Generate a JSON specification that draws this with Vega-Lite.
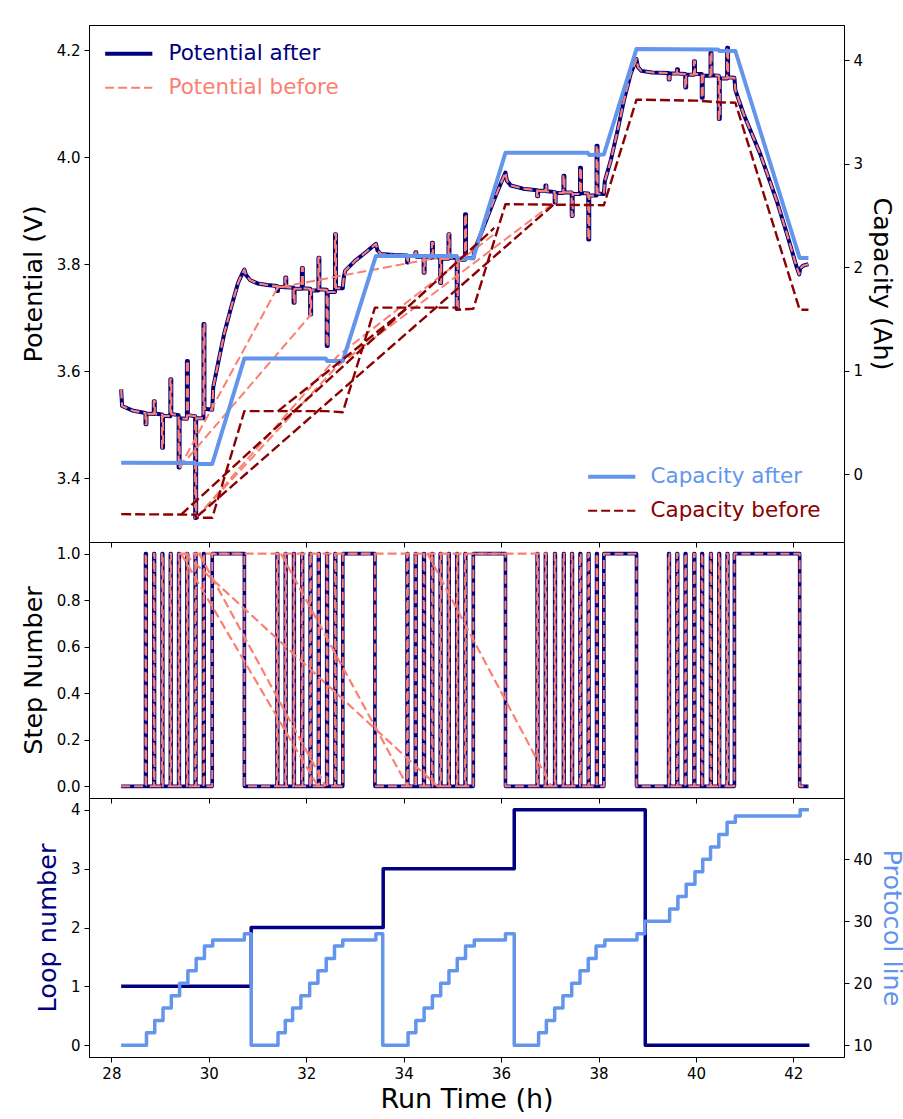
{
  "$schema": "https://vega.github.io/schema/vega-lite/v6.json",
  "background": "white",
  "padding": {"left": 20, "top": 24, "right": 0, "bottom": 0},
  "bounds": "flush",
  "spacing": 0,
  "config": {
    "font": "DejaVu Sans",
    "view": {"stroke": "#000000", "strokeWidth": 1},
    "axis": {"labelFont": "DejaVu Sans", "titleFont": "DejaVu Sans", "labelFontSize": 15, "titleFontSize": 25.5, "titleFontWeight": "normal", "labelColor": "#000000", "titleColor": "#000000", "tickColor": "#000000", "domainColor": "#000000", "tickSize": 5, "tickWidth": 1, "domainWidth": 1, "grid": false, "labelPadding": 4, "titlePadding": 10},
    "line": {"strokeJoin": "round"}
  },
  "datasets": {
    "pot": [
      {"t":28.2,"v":3.566},{"t":28.22,"v":3.535},{"t":28.45,"v":3.526},
      {"t":28.70,"v":3.522},{"t":28.70,"v":3.501},{"t":28.72,"v":3.501},{"t":28.72,"v":3.521},
      {"t":28.87,"v":3.520},{"t":28.87,"v":3.544},{"t":28.89,"v":3.544},{"t":28.89,"v":3.521},
      {"t":29.04,"v":3.519},{"t":29.04,"v":3.457},{"t":29.06,"v":3.457},{"t":29.06,"v":3.517},
      {"t":29.21,"v":3.516},{"t":29.21,"v":3.585},{"t":29.23,"v":3.585},{"t":29.23,"v":3.520},
      {"t":29.38,"v":3.518},{"t":29.38,"v":3.420},{"t":29.40,"v":3.420},{"t":29.40,"v":3.512},
      {"t":29.55,"v":3.511},{"t":29.55,"v":3.619},{"t":29.57,"v":3.619},{"t":29.57,"v":3.518},
      {"t":29.72,"v":3.516},{"t":29.72,"v":3.326},{"t":29.74,"v":3.326},{"t":29.74,"v":3.512},
      {"t":29.89,"v":3.512},{"t":29.89,"v":3.688},{"t":29.91,"v":3.688},{"t":29.91,"v":3.530},
      {"t":30.07,"v":3.528},{"t":30.09,"v":3.570},{"t":30.19,"v":3.615},{"t":30.32,"v":3.672},{"t":30.46,"v":3.720},{"t":30.60,"v":3.765},{"t":30.70,"v":3.785},{"t":30.73,"v":3.790},
      {"t":30.76,"v":3.780},{"t":30.85,"v":3.770},{"t":31.0,"v":3.764},{"t":31.2,"v":3.761},
      {"t":31.40,"v":3.759},{"t":31.40,"v":3.750},{"t":31.42,"v":3.750},{"t":31.42,"v":3.758},
      {"t":31.57,"v":3.757},{"t":31.57,"v":3.775},{"t":31.59,"v":3.775},{"t":31.59,"v":3.757},
      {"t":31.74,"v":3.756},{"t":31.74,"v":3.728},{"t":31.76,"v":3.728},{"t":31.76,"v":3.754},
      {"t":31.91,"v":3.754},{"t":31.91,"v":3.793},{"t":31.93,"v":3.793},{"t":31.93,"v":3.755},
      {"t":32.08,"v":3.754},{"t":32.08,"v":3.706},{"t":32.10,"v":3.706},{"t":32.10,"v":3.751},
      {"t":32.25,"v":3.751},{"t":32.25,"v":3.812},{"t":32.27,"v":3.812},{"t":32.27,"v":3.753},
      {"t":32.42,"v":3.752},{"t":32.42,"v":3.647},{"t":32.44,"v":3.647},{"t":32.44,"v":3.748},
      {"t":32.59,"v":3.748},{"t":32.59,"v":3.856},{"t":32.61,"v":3.856},{"t":32.61,"v":3.755},
      {"t":32.75,"v":3.755},{"t":32.77,"v":3.775},{"t":32.80,"v":3.788},{"t":33.0,"v":3.806},{"t":33.26,"v":3.825},{"t":33.43,"v":3.838},
      {"t":33.46,"v":3.826},{"t":33.53,"v":3.819},{"t":33.8,"v":3.817},
      {"t":34.07,"v":3.816},{"t":34.07,"v":3.803},{"t":34.09,"v":3.803},{"t":34.09,"v":3.815},
      {"t":34.24,"v":3.815},{"t":34.24,"v":3.822},{"t":34.26,"v":3.822},{"t":34.26,"v":3.814},
      {"t":34.41,"v":3.814},{"t":34.41,"v":3.784},{"t":34.43,"v":3.784},{"t":34.43,"v":3.812},
      {"t":34.58,"v":3.812},{"t":34.58,"v":3.840},{"t":34.60,"v":3.840},{"t":34.60,"v":3.813},
      {"t":34.75,"v":3.813},{"t":34.75,"v":3.765},{"t":34.77,"v":3.765},{"t":34.77,"v":3.810},
      {"t":34.92,"v":3.810},{"t":34.92,"v":3.856},{"t":34.94,"v":3.856},{"t":34.94,"v":3.812},
      {"t":35.09,"v":3.812},{"t":35.09,"v":3.716},{"t":35.11,"v":3.716},{"t":35.11,"v":3.808},
      {"t":35.26,"v":3.808},{"t":35.26,"v":3.893},{"t":35.28,"v":3.893},{"t":35.28,"v":3.812},
      {"t":35.43,"v":3.811},{"t":35.45,"v":3.825},{"t":35.6,"v":3.860},{"t":35.75,"v":3.895},{"t":35.9,"v":3.930},{"t":36.0,"v":3.952},{"t":36.09,"v":3.971},
      {"t":36.12,"v":3.956},{"t":36.2,"v":3.947},{"t":36.45,"v":3.941},
      {"t":36.74,"v":3.938},{"t":36.74,"v":3.927},{"t":36.76,"v":3.927},{"t":36.76,"v":3.937},
      {"t":36.91,"v":3.937},{"t":36.91,"v":3.947},{"t":36.93,"v":3.947},{"t":36.93,"v":3.936},
      {"t":37.10,"v":3.935},{"t":37.10,"v":3.915},{"t":37.12,"v":3.915},{"t":37.12,"v":3.933},
      {"t":37.28,"v":3.933},{"t":37.28,"v":3.965},{"t":37.30,"v":3.965},{"t":37.30,"v":3.934},
      {"t":37.45,"v":3.934},{"t":37.45,"v":3.890},{"t":37.47,"v":3.890},{"t":37.47,"v":3.931},
      {"t":37.62,"v":3.931},{"t":37.62,"v":3.980},{"t":37.64,"v":3.980},{"t":37.64,"v":3.933},
      {"t":37.79,"v":3.932},{"t":37.79,"v":3.846},{"t":37.81,"v":3.846},{"t":37.81,"v":3.928},
      {"t":37.96,"v":3.928},{"t":37.96,"v":4.021},{"t":37.98,"v":4.021},{"t":37.98,"v":3.932},
      {"t":38.11,"v":3.931},{"t":38.13,"v":3.955},{"t":38.25,"v":3.993},{"t":38.39,"v":4.049},{"t":38.52,"v":4.105},{"t":38.66,"v":4.155},{"t":38.78,"v":4.183},
      {"t":38.81,"v":4.168},{"t":38.88,"v":4.161},{"t":39.1,"v":4.158},
      {"t":39.44,"v":4.157},{"t":39.44,"v":4.145},{"t":39.46,"v":4.145},{"t":39.46,"v":4.156},
      {"t":39.61,"v":4.156},{"t":39.61,"v":4.164},{"t":39.63,"v":4.164},{"t":39.63,"v":4.156},
      {"t":39.78,"v":4.155},{"t":39.78,"v":4.130},{"t":39.80,"v":4.130},{"t":39.80,"v":4.154},
      {"t":39.96,"v":4.154},{"t":39.96,"v":4.179},{"t":39.98,"v":4.179},{"t":39.98,"v":4.155},
      {"t":40.12,"v":4.155},{"t":40.12,"v":4.111},{"t":40.14,"v":4.111},{"t":40.14,"v":4.152},
      {"t":40.30,"v":4.152},{"t":40.30,"v":4.195},{"t":40.32,"v":4.195},{"t":40.32,"v":4.153},
      {"t":40.47,"v":4.152},{"t":40.47,"v":4.071},{"t":40.49,"v":4.071},{"t":40.49,"v":4.147},
      {"t":40.64,"v":4.147},{"t":40.64,"v":4.204},{"t":40.66,"v":4.204},{"t":40.66,"v":4.149},
      {"t":40.79,"v":4.148},{"t":40.81,"v":4.125},{"t":40.98,"v":4.080},{"t":41.32,"v":4.006},{"t":41.66,"v":3.918},{"t":41.87,"v":3.856},{"t":42.07,"v":3.794},{"t":42.12,"v":3.781},{"t":42.14,"v":3.792},{"t":42.2,"v":3.797},{"t":42.31,"v":3.800}
    ],
    "potd": [
      {"t":29.40,"v":3.420,"g":"a"},{"t":32.10,"v":3.706,"g":"a"},
      {"t":29.40,"v":3.420,"g":"b"},{"t":31.41,"v":3.756,"g":"b"},{"t":34.69,"v":3.812,"g":"b"},
      {"t":29.74,"v":3.326,"g":"c"},{"t":32.64,"v":3.628,"g":"c"},{"t":35.86,"v":3.856,"g":"c"},
      {"t":29.74,"v":3.326,"g":"d"},{"t":32.64,"v":3.610,"g":"d"},{"t":37.09,"v":3.915,"g":"d"}
    ],
    "cap": [
      {"t":28.2,"c":0.112},{"t":29.70,"c":0.11},{"t":29.74,"c":0.10},{"t":30.07,"c":0.10},{"t":30.73,"c":1.12},{"t":32.40,"c":1.12},{"t":32.43,"c":1.095},{"t":32.75,"c":1.095},{"t":33.43,"c":2.11},{"t":35.09,"c":2.11},{"t":35.11,"c":2.085},{"t":35.43,"c":2.09},{"t":36.09,"c":3.107},{"t":37.78,"c":3.107},{"t":37.81,"c":3.085},{"t":38.11,"c":3.09},{"t":38.78,"c":4.11},{"t":40.45,"c":4.105},{"t":40.48,"c":4.09},{"t":40.81,"c":4.09},{"t":42.13,"c":2.09},{"t":42.31,"c":2.09}
    ],
    "capb": [
      {"t":28.2,"c":-0.385},{"t":29.72,"c":-0.39},{"t":29.74,"c":-0.42},{"t":30.07,"c":-0.42},{"t":30.73,"c":0.61},{"t":32.42,"c":0.61},{"t":32.75,"c":0.60},{"t":33.41,"c":1.61},{"t":35.09,"c":1.61},{"t":35.11,"c":1.59},{"t":35.43,"c":1.60},{"t":36.09,"c":2.61},{"t":38.11,"c":2.60},{"t":38.78,"c":3.62},{"t":40.0,"c":3.61},{"t":40.47,"c":3.595},{"t":40.81,"c":3.59},{"t":42.13,"c":1.59},{"t":42.31,"c":1.59}
    ],
    "capd": [
      {"t":29.43,"c":-0.39,"g":"a"},{"t":35.86,"c":2.38,"g":"a"},
      {"t":29.78,"c":-0.40,"g":"b"},{"t":37.09,"c":2.61,"g":"b"},
      {"t":31.42,"c":0.61,"g":"c"},{"t":34.08,"c":1.61,"g":"c"}
    ],
    "step": [
      {"t":28.2,"s":0},
      {"t":28.70,"s":1},{"t":28.715,"s":0},{"t":28.87,"s":1},{"t":28.885,"s":0},{"t":29.04,"s":1},{"t":29.055,"s":0},{"t":29.21,"s":1},{"t":29.225,"s":0},{"t":29.38,"s":1},{"t":29.395,"s":0},{"t":29.55,"s":1},{"t":29.565,"s":0},{"t":29.72,"s":1},{"t":29.735,"s":0},{"t":29.89,"s":1},{"t":29.905,"s":0},
      {"t":30.07,"s":1},{"t":30.73,"s":0},
      {"t":31.40,"s":1},{"t":31.415,"s":0},{"t":31.57,"s":1},{"t":31.585,"s":0},{"t":31.74,"s":1},{"t":31.755,"s":0},{"t":31.91,"s":1},{"t":31.925,"s":0},{"t":32.08,"s":1},{"t":32.095,"s":0},{"t":32.25,"s":1},{"t":32.265,"s":0},{"t":32.42,"s":1},{"t":32.435,"s":0},{"t":32.59,"s":1},{"t":32.605,"s":0},
      {"t":32.75,"s":1},{"t":33.41,"s":0},
      {"t":34.07,"s":1},{"t":34.085,"s":0},{"t":34.24,"s":1},{"t":34.255,"s":0},{"t":34.41,"s":1},{"t":34.425,"s":0},{"t":34.58,"s":1},{"t":34.595,"s":0},{"t":34.75,"s":1},{"t":34.765,"s":0},{"t":34.92,"s":1},{"t":34.935,"s":0},{"t":35.09,"s":1},{"t":35.105,"s":0},{"t":35.26,"s":1},{"t":35.275,"s":0},
      {"t":35.43,"s":1},{"t":36.09,"s":0},
      {"t":36.74,"s":1},{"t":36.755,"s":0},{"t":36.91,"s":1},{"t":36.925,"s":0},{"t":37.10,"s":1},{"t":37.115,"s":0},{"t":37.28,"s":1},{"t":37.295,"s":0},{"t":37.45,"s":1},{"t":37.465,"s":0},{"t":37.62,"s":1},{"t":37.635,"s":0},{"t":37.79,"s":1},{"t":37.805,"s":0},{"t":37.96,"s":1},{"t":37.975,"s":0},
      {"t":38.11,"s":1},{"t":38.78,"s":0},
      {"t":39.44,"s":1},{"t":39.455,"s":0},{"t":39.61,"s":1},{"t":39.625,"s":0},{"t":39.78,"s":1},{"t":39.795,"s":0},{"t":39.96,"s":1},{"t":39.975,"s":0},{"t":40.12,"s":1},{"t":40.135,"s":0},{"t":40.30,"s":1},{"t":40.315,"s":0},{"t":40.47,"s":1},{"t":40.485,"s":0},{"t":40.64,"s":1},{"t":40.655,"s":0},
      {"t":40.79,"s":1},{"t":42.13,"s":0},
      {"t":42.31,"s":0}
    ],
    "stepd": [
      {"t":29.43,"s":1,"g":"a"},{"t":32.24,"s":0,"g":"a"},
      {"t":29.80,"s":1,"g":"b"},{"t":32.40,"s":0,"g":"b"},
      {"t":29.50,"s":1,"g":"c"},{"t":34.70,"s":0,"g":"c"},
      {"t":31.48,"s":1,"g":"d"},{"t":34.08,"s":0,"g":"d"},
      {"t":34.49,"s":1,"g":"e"},{"t":37.03,"s":0,"g":"e"},
      {"t":29.40,"s":1,"g":"f"},{"t":36.95,"s":1,"g":"f"}
    ],
    "loop": [
      {"t":28.2,"n":1},{"t":30.87,"n":2},{"t":33.58,"n":3},{"t":36.27,"n":4},{"t":38.96,"n":0},{"t":42.33,"n":0}
    ],
    "proto": [
      {"t":28.2,"p":10},{"t":28.72,"p":12},{"t":28.89,"p":14},{"t":29.06,"p":16},{"t":29.23,"p":18},{"t":29.40,"p":20},{"t":29.57,"p":22},{"t":29.74,"p":24},{"t":29.91,"p":26},{"t":30.08,"p":27},{"t":30.73,"p":28},{"t":30.87,"p":10},
      {"t":31.42,"p":12},{"t":31.57,"p":14},{"t":31.72,"p":16},{"t":31.89,"p":18},{"t":32.07,"p":20},{"t":32.24,"p":22},{"t":32.41,"p":24},{"t":32.58,"p":26},{"t":32.75,"p":27},{"t":33.43,"p":28},{"t":33.57,"p":10},
      {"t":34.09,"p":12},{"t":34.25,"p":14},{"t":34.42,"p":16},{"t":34.59,"p":18},{"t":34.76,"p":20},{"t":34.93,"p":22},{"t":35.10,"p":24},{"t":35.27,"p":26},{"t":35.45,"p":27},{"t":36.09,"p":28},{"t":36.27,"p":10},
      {"t":36.77,"p":12},{"t":36.93,"p":14},{"t":37.10,"p":16},{"t":37.27,"p":18},{"t":37.45,"p":20},{"t":37.62,"p":22},{"t":37.79,"p":24},{"t":37.95,"p":26},{"t":38.13,"p":27},{"t":38.79,"p":28},{"t":38.95,"p":30},
      {"t":39.46,"p":32},{"t":39.63,"p":34},{"t":39.80,"p":36},{"t":39.98,"p":38},{"t":40.14,"p":40},{"t":40.30,"p":42},{"t":40.47,"p":44},{"t":40.64,"p":46},{"t":40.81,"p":47},{"t":42.14,"p":48},{"t":42.32,"p":48}
    ]
  },
  "vconcat": [
    {
      "width": 755,
      "height": 517,
      "encoding": {
        "x": {"field": "t", "type": "quantitative", "scale": {"domain": [27.54, 43.04], "nice": false, "zero": false}, "axis": {"values": [28,30,32,34,36,38,40,42], "labels": false, "title": null}}
      },
      "layer": [
        {
          "encoding": {
            "y": {"field": "v", "type": "quantitative", "scale": {"domain": [3.281, 4.2467], "nice": false, "zero": false}, "axis": {"orient": "left", "title": "Potential (V)", "values": [3.4,3.6,3.8,4.0,4.2], "format": ".1f"}}
          },
          "layer": [
            {"data": {"name": "pot"}, "mark": {"type": "line", "strokeWidth": 4, "clip": true},
             "encoding": {"stroke": {"datum": "Potential after", "type": "nominal", "scale": {"domain": ["Potential after", "Potential before"], "range": ["#000080", "#FA8072"]},
               "legend": {"title": null, "orient": "none", "legendX": 29, "legendY": 18, "symbolType": "M-1.43,0H1.43", "symbolSize": 1089, "symbolStrokeWidth": {"expr": "datum.label == 'Potential after' ? 4 : 2.2"}, "symbolDash": {"expr": "datum.label == 'Potential after' ? [1,0] : [9,4]"}, "labelColor": {"expr": "datum.label == 'Potential after' ? '#000080' : '#FA8072'"}, "labelFont": "DejaVu Sans", "labelFontSize": 21.5, "labelOffset": 29, "labelLimit": 400, "rowPadding": 11, "padding": 0, "symbolFillColor": "transparent"}},
               "order": {"value": null}}},
            {"data": {"name": "pot"}, "mark": {"type": "line", "strokeWidth": 2.2, "strokeDash": [9,4], "clip": true},
             "encoding": {"stroke": {"datum": "Potential before", "type": "nominal", "scale": {"domain": ["Potential after", "Potential before"], "range": ["#000080", "#FA8072"]}}, "order": {"value": null}}},
            {"data": {"name": "potd"}, "mark": {"type": "line", "strokeWidth": 2, "strokeDash": [9,4], "clip": true},
             "encoding": {"stroke": {"datum": "Potential before", "type": "nominal", "scale": {"domain": ["Potential after", "Potential before"], "range": ["#000080", "#FA8072"]}}, "detail": {"field": "g", "type": "nominal"}, "order": {"value": null}}}
          ]
        },
        {
          "encoding": {
            "y": {"field": "c", "type": "quantitative", "scale": {"domain": [-0.654, 4.341], "nice": false, "zero": false}, "axis": {"orient": "right", "title": "Capacity (Ah)", "values": [0,1,2,3,4], "format": "d", "titlePadding": 6}}
          },
          "layer": [
            {"data": {"name": "cap"}, "mark": {"type": "line", "strokeWidth": 4, "clip": true},
             "encoding": {"stroke": {"datum": "Capacity after", "type": "nominal", "scale": {"domain": ["Capacity after", "Capacity before"], "range": ["#6495ED", "#8B0000"]},
               "legend": {"title": null, "orient": "none", "legendX": 512, "legendY": 441, "symbolType": "M-1.43,0H1.43", "symbolSize": 1089, "symbolStrokeWidth": {"expr": "datum.label == 'Capacity after' ? 4 : 2.2"}, "symbolDash": {"expr": "datum.label == 'Capacity after' ? [1,0] : [9,4]"}, "labelColor": {"expr": "datum.label == 'Capacity after' ? '#6495ED' : '#8B0000'"}, "labelFont": "DejaVu Sans", "labelFontSize": 21.5, "labelOffset": 28, "labelLimit": 400, "rowPadding": 11, "padding": 0, "symbolFillColor": "transparent"}},
               "order": {"value": null}}},
            {"data": {"name": "capb"}, "mark": {"type": "line", "strokeWidth": 2.4, "strokeDash": [10,4], "clip": true},
             "encoding": {"stroke": {"datum": "Capacity before", "type": "nominal", "scale": {"domain": ["Capacity after", "Capacity before"], "range": ["#6495ED", "#8B0000"]}}, "order": {"value": null}}},
            {"data": {"name": "capd"}, "mark": {"type": "line", "strokeWidth": 2.4, "strokeDash": [10,4], "clip": true},
             "encoding": {"stroke": {"datum": "Capacity before", "type": "nominal", "scale": {"domain": ["Capacity after", "Capacity before"], "range": ["#6495ED", "#8B0000"]}}, "detail": {"field": "g", "type": "nominal"}, "order": {"value": null}}}
          ]
        }
      ],
      "resolve": {"scale": {"y": "independent", "stroke": "independent"}, "legend": {"stroke": "independent"}}
    },
    {
      "width": 755,
      "height": 256,
      "encoding": {
        "x": {"field": "t", "type": "quantitative", "scale": {"domain": [27.54, 43.04], "nice": false, "zero": false}, "axis": {"values": [28,30,32,34,36,38,40,42], "labels": false, "title": null}},
        "y": {"field": "s", "type": "quantitative", "scale": {"domain": [-0.05, 1.05], "nice": false, "zero": false}, "axis": {"title": "Step Number", "values": [0,0.2,0.4,0.6,0.8,1.0], "format": ".1f"}}
      },
      "layer": [
        {"data": {"name": "step"}, "mark": {"type": "line", "interpolate": "step-after", "strokeWidth": 3.6, "color": "#000080", "clip": true}, "encoding": {"order": {"value": null}}},
        {"data": {"name": "step"}, "mark": {"type": "line", "interpolate": "step-after", "strokeWidth": 2, "strokeDash": [9,4], "color": "#FA8072", "clip": true}, "encoding": {"order": {"value": null}}},
        {"data": {"name": "stepd"}, "mark": {"type": "line", "strokeWidth": 2.2, "strokeDash": [9,4], "color": "#FA8072", "clip": true}, "encoding": {"detail": {"field": "g", "type": "nominal"}, "order": {"value": null}}}
      ]
    },
    {
      "width": 755,
      "height": 259,
      "encoding": {
        "x": {"field": "t", "type": "quantitative", "scale": {"domain": [27.54, 43.04], "nice": false, "zero": false}, "axis": {"values": [28,30,32,34,36,38,40,42], "title": "Run Time (h)", "titleFontSize": 27, "format": "d", "labelFlush": false, "titlePadding": 5}}
      },
      "layer": [
        {"data": {"name": "loop"}, "mark": {"type": "line", "interpolate": "step-after", "strokeWidth": 3.5, "color": "#000080", "clip": true},
         "encoding": {"y": {"field": "n", "type": "quantitative", "scale": {"domain": [-0.2, 4.2], "nice": false, "zero": false}, "axis": {"orient": "left", "title": "Loop number", "titleColor": "#000080", "values": [0,1,2,3,4], "format": "d"}}, "order": {"value": null}}},
        {"data": {"name": "proto"}, "mark": {"type": "line", "interpolate": "step-after", "strokeWidth": 3.5, "color": "#6495ED", "clip": true},
         "encoding": {"y": {"field": "p", "type": "quantitative", "scale": {"domain": [8.1, 49.9], "nice": false, "zero": false}, "axis": {"orient": "right", "title": "Protocol line", "titleColor": "#6495ED", "values": [10,20,30,40], "format": "d", "titlePadding": 6}}, "order": {"value": null}}}
      ],
      "resolve": {"scale": {"y": "independent"}}
    }
  ]
}
